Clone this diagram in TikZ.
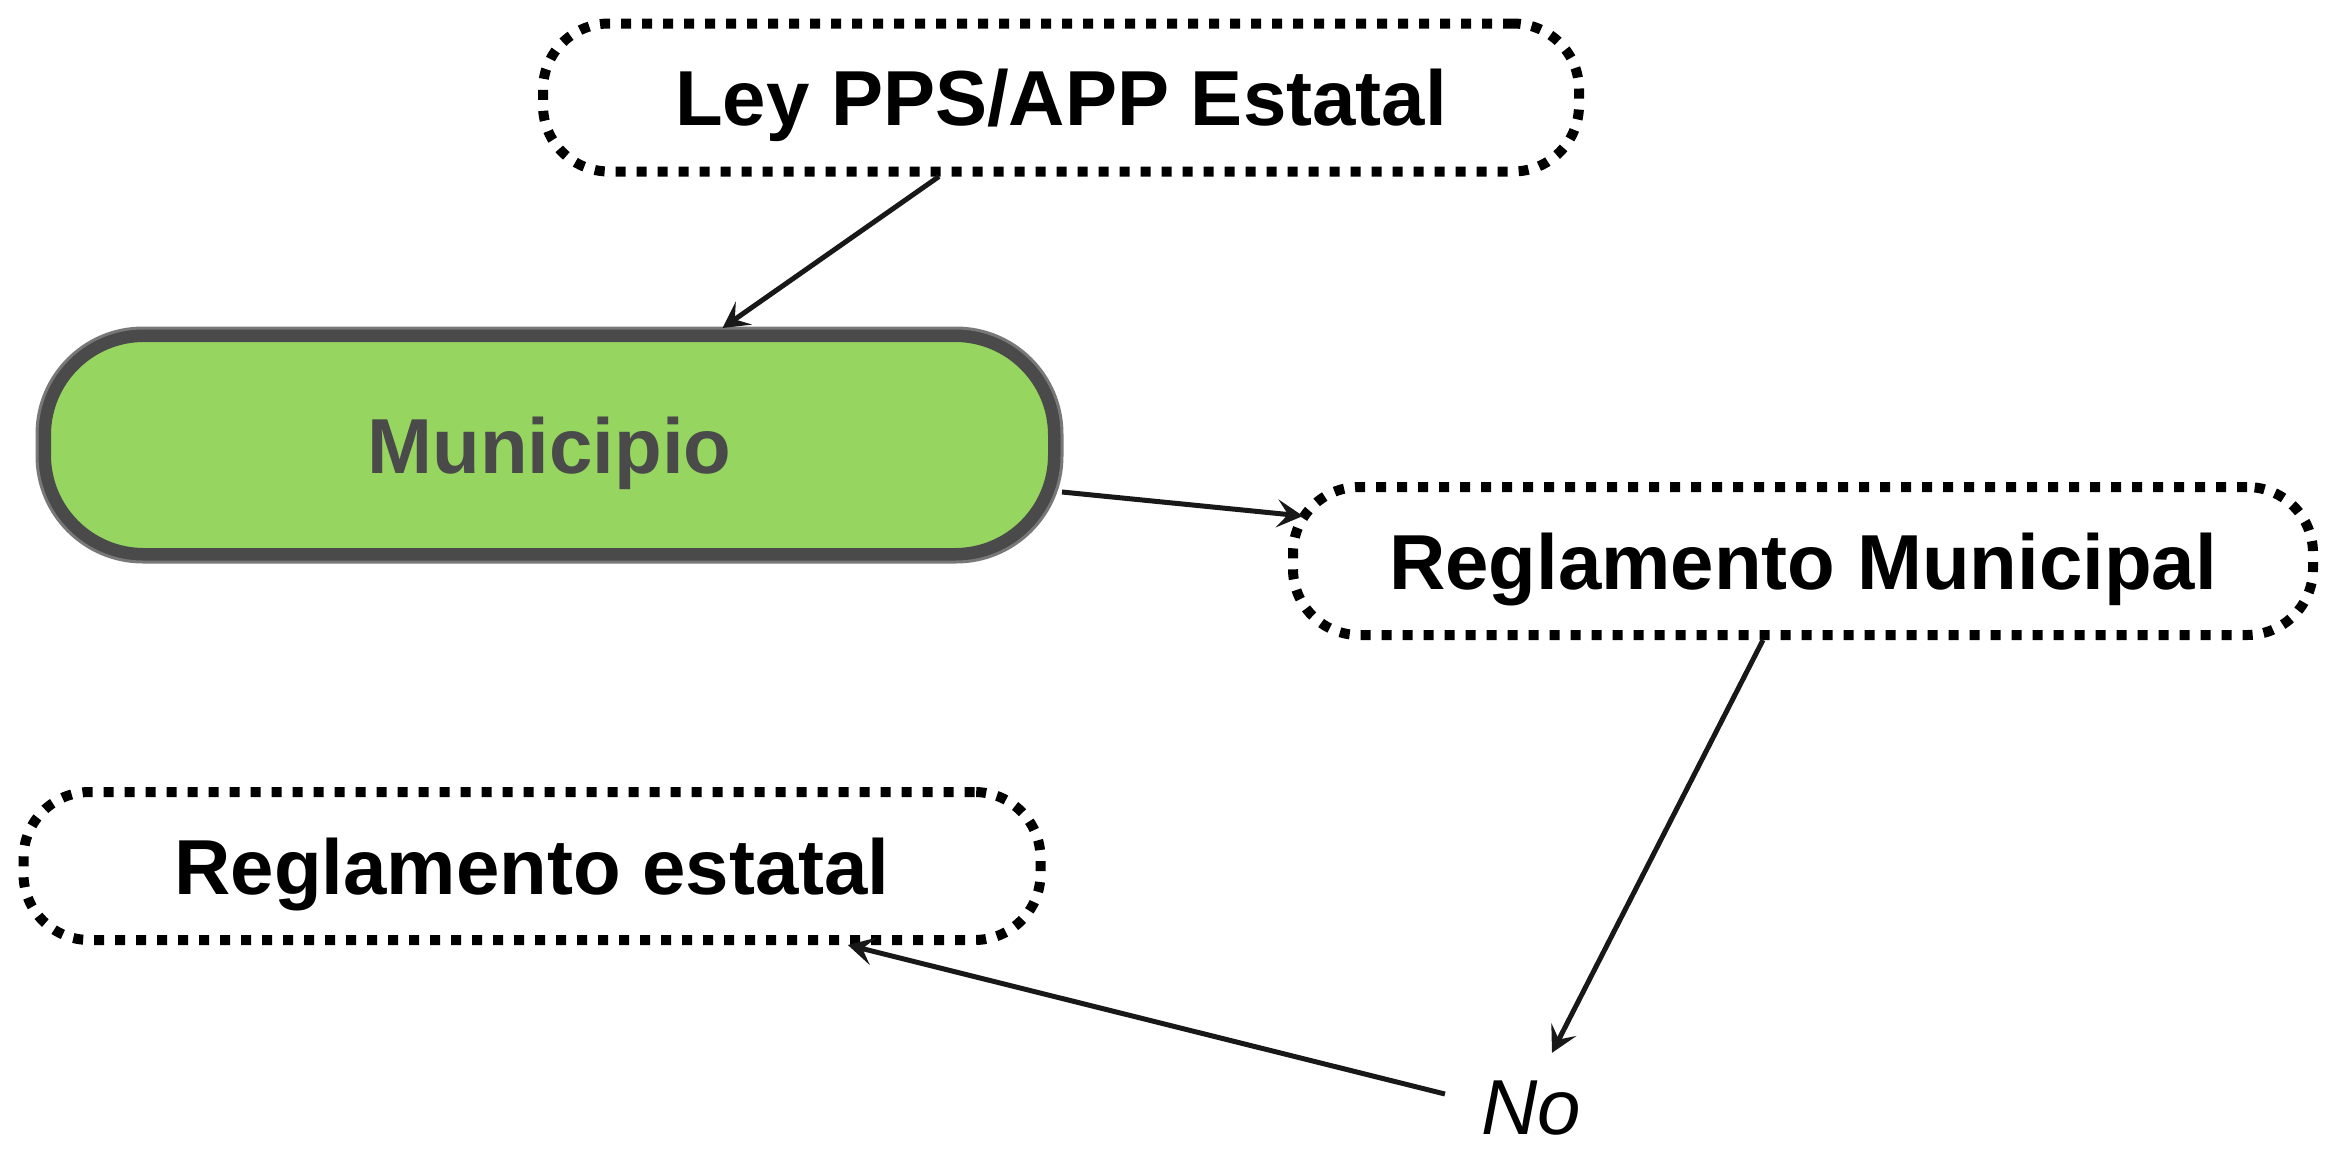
\documentclass[tikz,border=0pt]{standalone}
\usepackage{fontspec}
\setmainfont{Liberation Sans}
\usetikzlibrary{arrows.meta}
\definecolor{mgreen}{RGB}{150,214,96}
\definecolor{mgray}{RGB}{74,74,74}
\definecolor{mfringe}{RGB}{120,120,120}
\definecolor{arrc}{RGB}{24,24,24}
\tikzset{
  dbox/.style={draw=black, line width=10pt, dash pattern=on 10pt off 11pt,
    rounded corners=66pt, minimum height=148pt, inner sep=0pt,
    text height=56pt, text depth=0pt,
    font=\bfseries\fontsize{78}{90}\selectfont},
  mbox/.style={fill=mgreen, draw=mgray, line width=14pt, rounded corners=100pt,
    minimum height=220pt, minimum width=1011pt, inner sep=0pt, text=mgray,
    text height=56pt, text depth=0pt,
    font=\bfseries\fontsize{78}{90}\selectfont},
  fringe/.style={draw=mfringe, line width=3pt, rounded corners=106pt},
  arr/.style={draw=arrc, line width=5pt,
    -{Stealth[length=26pt,width=28pt,inset=11pt]}},
  lbl/.style={font=\itshape\fontsize{78}{90}\selectfont, inner sep=3pt,
    text height=56pt, text depth=0pt}
}
\begin{document}
\begin{tikzpicture}[x=1pt,y=-1pt]
\useasboundingbox (0,0) rectangle (2327,1152);
\fill[white] (0,0) rectangle (2327,1152);

\node[dbox, minimum width=1036pt] (ley) at (1061,97.5) {Ley PPS/APP Estatal};
\node[mbox] (mun) at (549.5,445) {Municipio};
\draw[fringe] (mun.south west) rectangle (mun.north east);
\node[dbox, minimum width=1020pt] (rm) at (1803,561) {Reglamento Municipal};
\node[dbox, minimum width=1017pt] (re) at (532,866) {Reglamento estatal};
\node[lbl] (no) at (1531,1106) {No};

\draw[arr] ([xshift=-122pt]ley.south) -- ([xshift=173pt]mun.north);
\draw[arr] ([yshift=-47pt]mun.east) -- ([shift={(15pt,45pt)}]rm.west);
\draw[arr] ([xshift=-40pt]rm.south) -- ([shift={(21pt,22pt)}]no.north);
\draw[arr] ([shift={(-33pt,12pt)}]no.west) -- (re);
\end{tikzpicture}
\end{document}
